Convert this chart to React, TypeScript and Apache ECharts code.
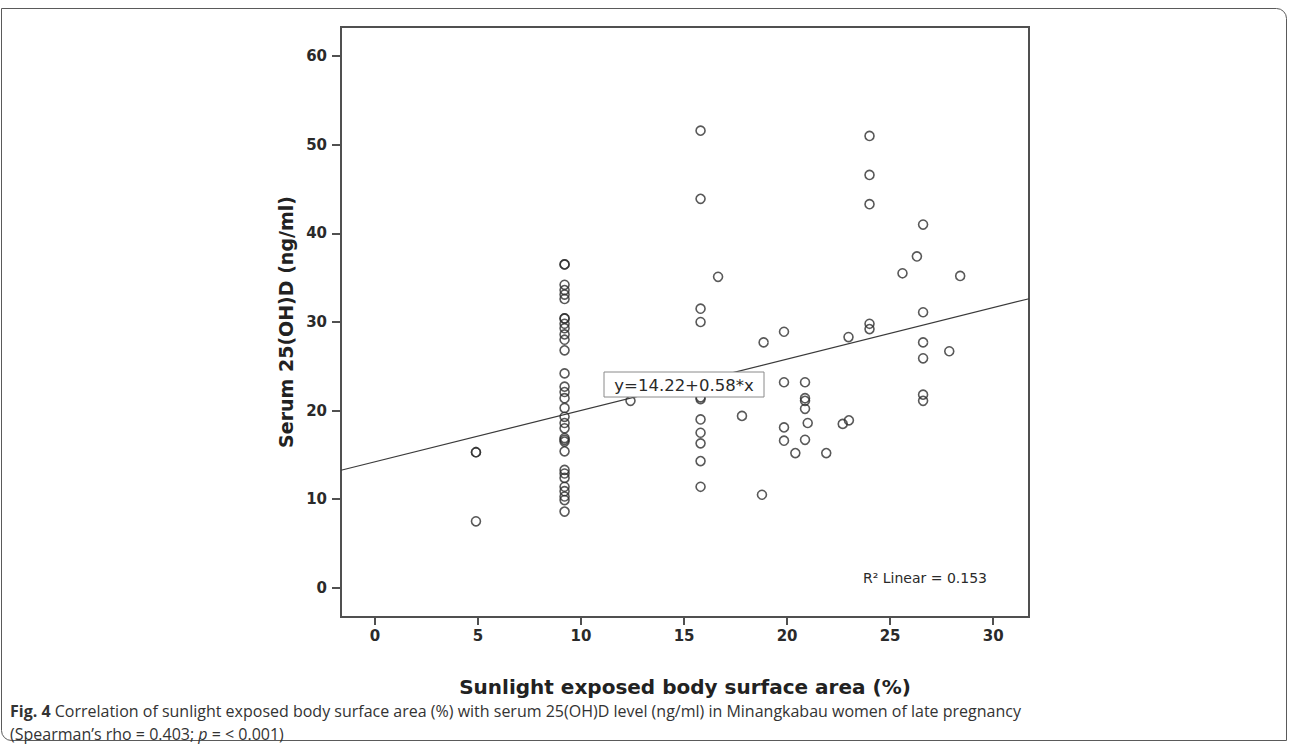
import React, { useEffect, useRef } from "react";
import * as echarts from "echarts";

// Sunlight exposed body surface area (%) for each woman
const sunlightPct = [
  4.9, 4.9, 4.9,
  9.2, 9.2, 9.2, 9.2, 9.2, 9.2, 9.2, 9.2, 9.2, 9.2, 9.2, 9.2, 9.2, 9.2, 9.2, 9.2, 9.2,
  9.2, 9.2, 9.2, 9.2, 9.2, 9.2, 9.2, 9.2, 9.2, 9.2, 9.2, 9.2, 9.2, 9.2, 9.2, 9.2,
  12.4,
  15.8, 15.8, 15.8, 15.8, 15.8, 15.8, 15.8, 15.8, 15.8, 15.8, 15.8,
  16.65, 17.81, 18.78, 18.86,
  19.85, 19.85, 19.85, 19.85,
  20.4,
  20.87, 20.87, 20.87, 20.87, 20.87,
  21.0, 21.9, 22.7, 23.0, 22.98,
  24.0, 24.0, 24.0, 24.0, 24.0,
  25.6, 26.3,
  26.6, 26.6, 26.6, 26.6, 26.6, 26.6,
  27.87, 28.4,
];

// Serum 25(OH)D (ng/ml), same order as sunlightPct
const serumVitD = [
  15.3, 15.3, 7.5,
  36.5, 36.5, 34.2, 33.6, 33.1, 32.6, 30.4, 30.4, 29.8, 29.3, 28.6, 28.0, 26.8, 24.2, 22.7, 22.1, 21.4,
  20.3, 19.3, 18.6, 18.0, 16.9, 16.7, 16.5, 15.4, 13.3, 12.9, 12.4, 11.4, 10.9, 10.3, 9.9, 8.6,
  21.1,
  51.6, 43.9, 31.5, 30.0, 21.5, 21.3, 19.0, 17.5, 16.3, 14.3, 11.4,
  35.1, 19.4, 10.5, 27.7,
  28.9, 23.2, 18.1, 16.6,
  15.2,
  23.2, 21.4, 21.1, 20.2, 16.7,
  18.6, 15.2, 18.5, 18.9, 28.3,
  51.0, 46.6, 43.3, 29.8, 29.2,
  35.5, 37.4,
  41.0, 31.1, 27.7, 25.9, 21.8, 21.1,
  26.7, 35.2,
];

const xTickValues = [0, 5, 10, 15, 20, 25, 30];
const yTickValues = [0, 10, 20, 30, 40, 50, 60];

const fitIntercept = 14.22;
const fitSlope = 0.58;
const rSquared = 0.153;

const xTitle = "Sunlight exposed body surface area (%)";
const yTitle = "Serum 25(OH)D (ng/ml)";
const captionLead = "Fig. 4";
const captionLine1 =
  " Correlation of sunlight exposed body surface area (%) with serum 25(OH)D level (ng/ml) in Minangkabau women of late pregnancy";
const captionLine2a = "(Spearman\u2019s rho = 0.403; ";
const captionLine2p = "p";
const captionLine2b = " = < 0.001)";

const X_MIN = -1.65;
const X_MAX = 31.74;
const Y_MIN = -3.3;
const Y_MAX = 63.3;

export default function App() {
  const ref = useRef<HTMLDivElement>(null);

  useEffect(() => {
    if (!ref.current) return;
    const chart = echarts.init(ref.current, null, { renderer: "svg" });
    const points = sunlightPct.map((x, i) => [x, serumVitD[i]]);
    const fitLine = [
      [X_MIN, fitIntercept + fitSlope * X_MIN],
      [X_MAX, fitIntercept + fitSlope * X_MAX],
    ];
    const axisColor = "#505050";
    const tickFont = {
      color: "#2a2a2a",
      fontFamily: "DejaVu Sans",
      fontWeight: "bold" as const,
      fontSize: 15,
    };
    const captionFont = { fontFamily: "Open Sans", fontSize: 16, fill: "#333" };

    chart.setOption({
      animation: false,
      backgroundColor: "#ffffff",
      grid: {
        left: 341,
        top: 27,
        width: 688,
        height: 590,
        show: true,
        borderColor: axisColor,
        borderWidth: 2,
        backgroundColor: "transparent",
      },
      xAxis: {
        type: "value",
        min: X_MIN,
        max: X_MAX,
        splitLine: { show: false },
        axisLine: { show: true, onZero: false, lineStyle: { color: axisColor, width: 2 } },
        axisTick: {
          show: true,
          customValues: xTickValues,
          length: 8,
          lineStyle: { color: axisColor, width: 2 },
        },
        axisLabel: { customValues: xTickValues, margin: 11, ...tickFont },
        name: xTitle,
        nameLocation: "middle",
        nameGap: 60,
        nameTextStyle: {
          color: "#222",
          fontFamily: "DejaVu Sans",
          fontWeight: "bold",
          fontSize: 20,
        },
      },
      yAxis: {
        type: "value",
        min: Y_MIN,
        max: Y_MAX,
        splitLine: { show: false },
        axisLine: { show: true, onZero: false, lineStyle: { color: axisColor, width: 2 } },
        axisTick: {
          show: true,
          customValues: yTickValues,
          length: 9,
          lineStyle: { color: axisColor, width: 2 },
        },
        axisLabel: { customValues: yTickValues, margin: 14, ...tickFont },
        name: yTitle,
        nameLocation: "middle",
        nameGap: 42,
        nameRotate: 90,
        nameTextStyle: {
          color: "#222",
          fontFamily: "DejaVu Sans",
          fontWeight: "bold",
          fontSize: 19,
        },
      },
      series: [
        {
          type: "line",
          data: fitLine,
          symbol: "none",
          silent: true,
          z: 2,
          lineStyle: { color: "#3a3a3a", width: 1.2 },
        },
        {
          type: "scatter",
          data: points,
          symbol: "circle",
          symbolSize: 9,
          z: 3,
          itemStyle: { color: "transparent", borderColor: "#2e2e2e", borderWidth: 1.6 },
        },
      ],
      graphic: [
        {
          type: "rect",
          z: 0,
          silent: true,
          shape: { x: 1.5, y: 8.5, width: 1285, height: 732, r: [0, 10, 0, 10] },
          style: { fill: "none", stroke: "#5a5a5a", lineWidth: 1 },
        },
        {
          type: "group",
          x: 604,
          y: 372,
          z: 100,
          children: [
            {
              type: "rect",
              z: 100,
              shape: { x: 0, y: 0, width: 160, height: 25 },
              style: { fill: "#ffffff", stroke: "#8a8a8a", lineWidth: 1 },
            },
            {
              type: "text",
              z: 101,
              x: 80,
              y: 13,
              style: {
                text: `y=${fitIntercept.toFixed(2)}+${fitSlope.toFixed(2)}*x`,
                fontFamily: "DejaVu Sans",
                fontSize: 16.5,
                fill: "#2a2a2a",
                align: "center",
                verticalAlign: "middle",
              },
            },
          ],
        },
        {
          type: "text",
          z: 100,
          x: 987,
          y: 578,
          style: {
            text: `R\u00B2 Linear = ${rSquared.toFixed(3)}`,
            fontFamily: "DejaVu Sans",
            fontSize: 14,
            fill: "#2a2a2a",
            align: "right",
            verticalAlign: "middle",
          },
        },
        {
          type: "text",
          z: 100,
          x: 10,
          y: 711,
          style: {
            text: `{b|${captionLead}}{n|${captionLine1}}`,
            verticalAlign: "middle",
            rich: {
              b: { ...captionFont, fontWeight: 700 },
              n: { ...captionFont, fontWeight: 400 },
            },
          },
        },
        {
          type: "text",
          z: 100,
          x: 10,
          y: 734,
          style: {
            text: `{n|${captionLine2a}}{i|${captionLine2p}}{n|${captionLine2b}}`,
            verticalAlign: "middle",
            rich: {
              n: { ...captionFont, fontWeight: 400 },
              i: { ...captionFont, fontWeight: 400, fontStyle: "italic" },
            },
          },
        },
      ],
    });

    return () => {
      chart.dispose();
    };
  }, []);

  return (
    <div
      ref={ref}
      style={{ position: "absolute", left: 0, top: 0, width: 1290, height: 747 }}
    />
  );
}
